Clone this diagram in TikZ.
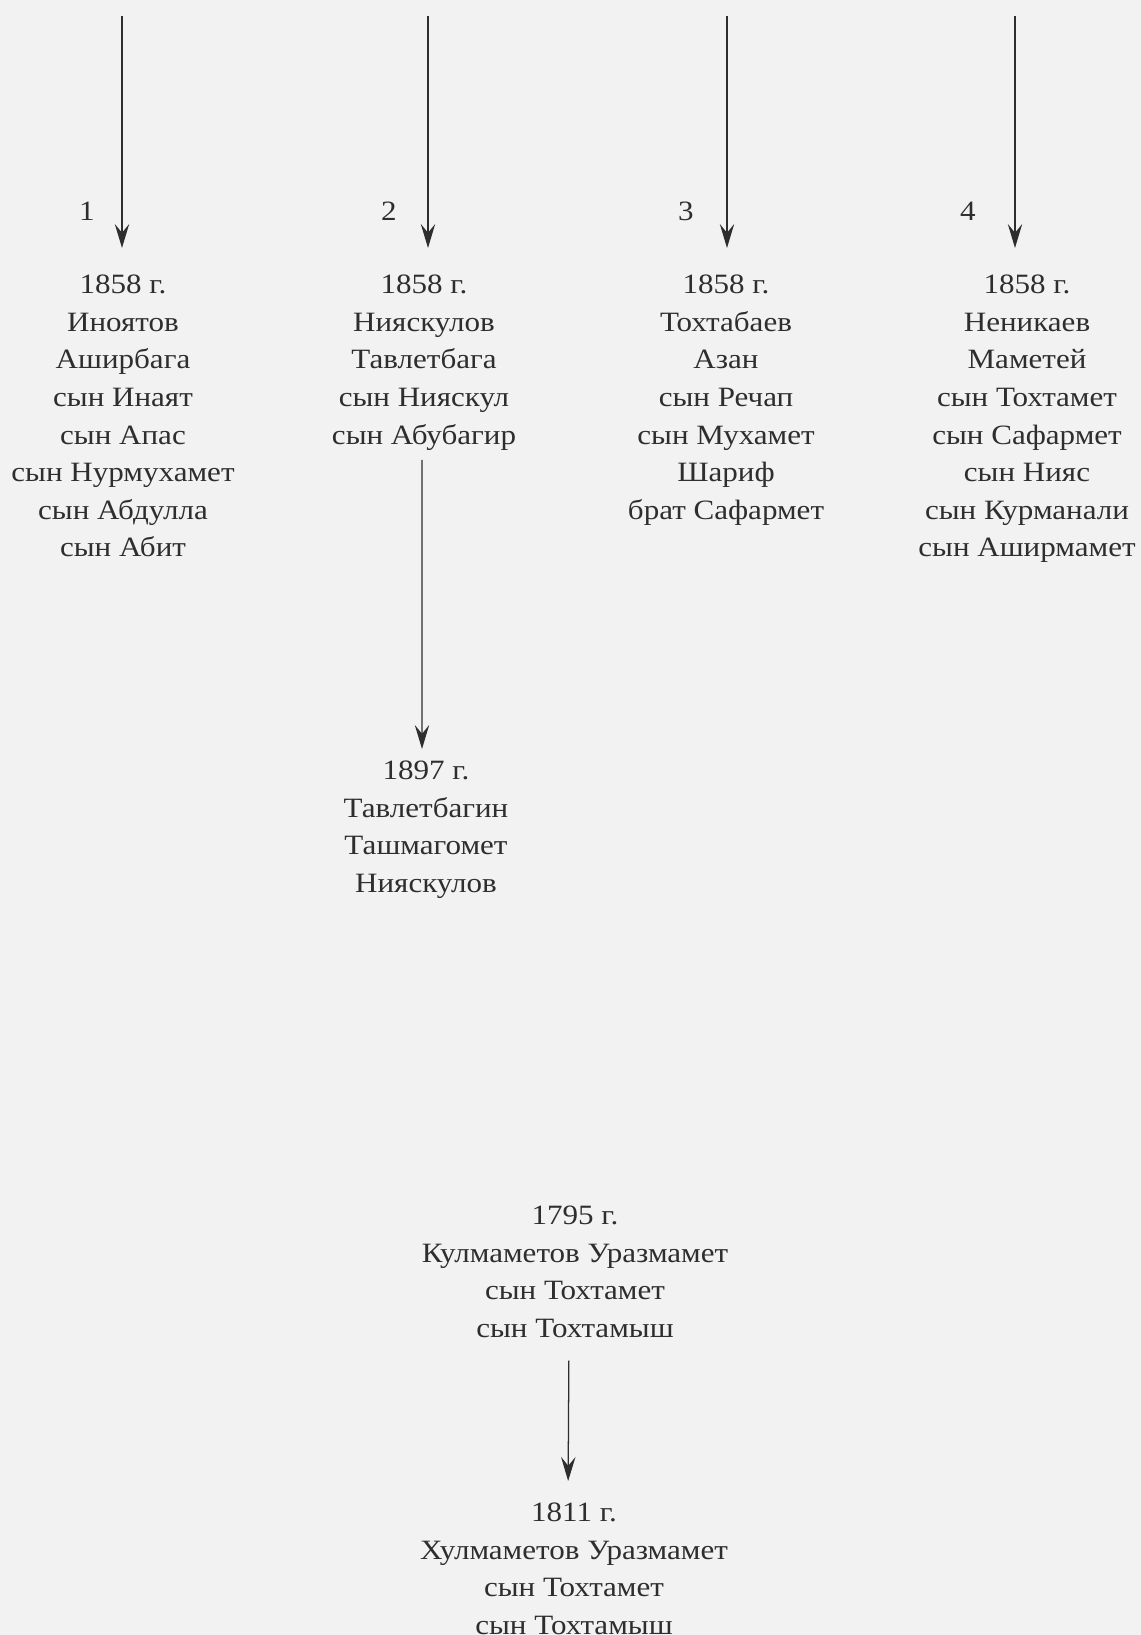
\documentclass[tikz,border=0pt]{standalone}
\usepackage{fontspec}
\setmainfont{Liberation Serif}[FakeStretch=1.11]
\usetikzlibrary{arrows.meta}
\definecolor{pageGray}{HTML}{F2F2F2}
\definecolor{inkGray}{HTML}{2E2E2E}

\begin{document}
\begin{tikzpicture}[
  every node/.style={font=\fontsize{19.9}{26.7}\selectfont, text=inkGray},
  rec/.style={align=center, inner sep=0pt, anchor=north},
  num/.style={inner sep=0pt},
  arr/.style={-{Stealth[length=0.6cm, width=0.36cm, inset=0.22cm]},
    line width=0.9pt, draw=inkGray},
]

% Page
\fill[pageGray] (0,0) rectangle (28.525,40.875);
\useasboundingbox (0,0) rectangle (28.525,40.875);

% Sources of the four lines
\coordinate (src1) at (3.05,40.475);
\coordinate (src2) at (10.7,40.475);
\coordinate (src3) at (18.175,40.475);
\coordinate (src4) at (25.375,40.475);

% Numbers
\node[num] (lab1) at (2.175,35.6) {1};
\node[num] (lab2) at (9.725,35.6) {2};
\node[num] (lab3) at (17.15,35.6) {3};
\node[num] (lab4) at (24.2,35.6) {4};

% Records of 1858
\node[rec] (rec1) at (3.075,34.0)
  {1858 г.\\Иноятов\\Аширбага\\сын Инаят\\сын Апас\\сын Нурмухамет\\сын Абдулла\\сын Абит};
\node[rec] (rec2) at (10.6,34.0)
  {1858 г.\\Нияскулов\\Тавлетбага\\сын Нияскул\\сын Абубагир};
\node[rec] (rec3) at (18.15,34.0)
  {1858 г.\\Тохтабаев\\Азан\\сын Речап\\сын Мухамет\\Шариф\\брат Сафармет};
\node[rec] (rec4) at (25.675,34.0)
  {1858 г.\\Неникаев\\Маметей\\сын Тохтамет\\сын Сафармет\\сын Нияс\\сын Курманали\\сын Аширмамет};

% Record of 1897
\node[rec] (rec2b) at (10.65,21.85)
  {1897 г.\\Тавлетбагин\\Ташмагомет\\Нияскулов};

% Records of 1795 and 1811
\node[rec] (old1) at (14.375,10.725)
  {1795 г.\\Кулмаметов Уразмамет\\сын Тохтамет\\сын Тохтамыш};
\node[rec] (old2) at (14.35,3.3)
  {1811 г.\\Хулмаметов Уразмамет\\сын Тохтамет\\сын Тохтамыш};

% Arrows
\foreach \i in {1,...,4}
  \draw[arr, shorten >=0.675cm] (src\i) -- (src\i |- rec\i.north);
\draw[arr, shorten <=0.24cm, shorten >=0.3cm]
  ([xshift=-0.05cm]rec2.south) -- ([xshift=-0.1cm]rec2b.north);
\draw[arr, shorten <=0.565cm, shorten >=0.55cm]
  ([xshift=-0.15cm]old1.south) -- ([xshift=-0.15cm]old2.north);

\end{tikzpicture}
\end{document}
